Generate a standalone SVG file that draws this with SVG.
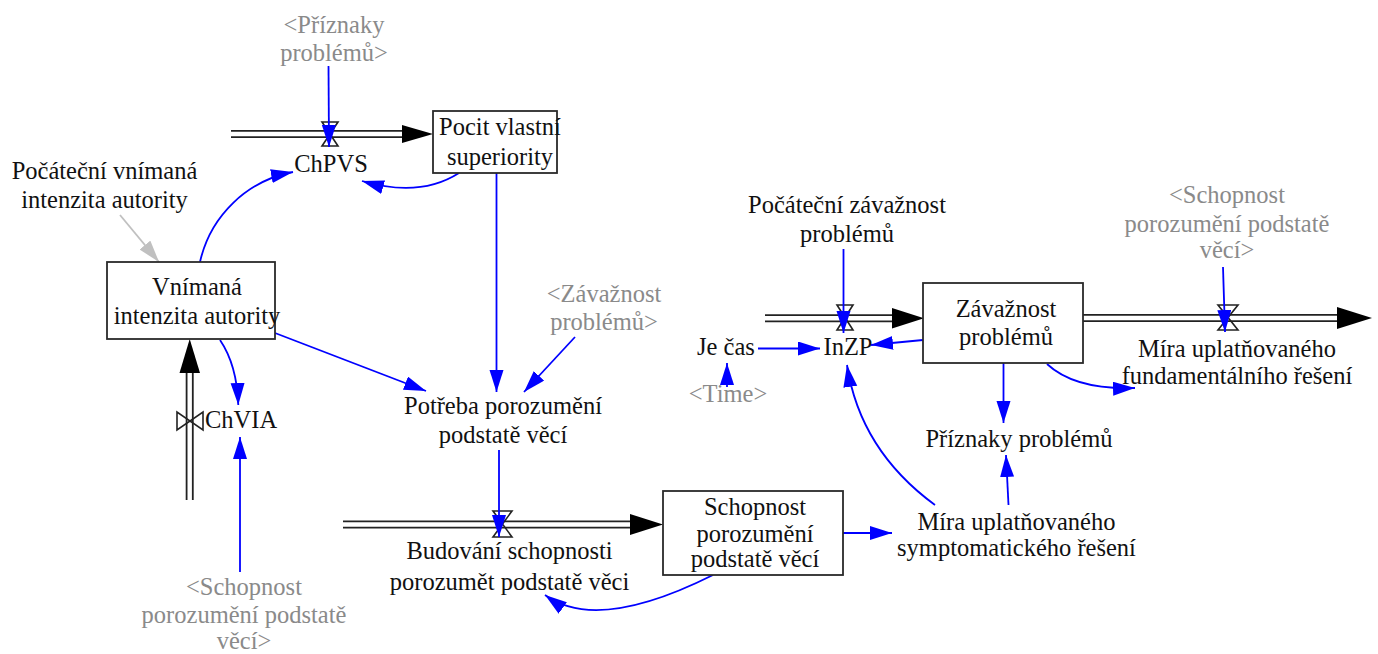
<svg xmlns="http://www.w3.org/2000/svg" width="1378" height="654" viewBox="0 0 1378 654">
<style>
text{font-family:"Liberation Serif",Tinos,"Times New Roman",Times,serif;font-size:24.5px;text-anchor:middle;fill:#111}
.g{fill:#8a8a8a}
.box{fill:#fff;stroke:#2a2a2a;stroke-width:1.8}
.po{stroke:#222;stroke-width:8;fill:none}
.pi{stroke:#fff;stroke-width:4.4;fill:none}
.fh{fill:#000}
.valve{fill:none;stroke:#222;stroke-width:1.6}
.c{fill:none;stroke:#0000ff;stroke-width:1.8;marker-end:url(#ab)}
.cg{fill:none;stroke:#c0c0c0;stroke-width:1.8;marker-end:url(#ag)}
</style>
<defs>
<marker id="ab" markerUnits="userSpaceOnUse" markerWidth="24" markerHeight="16" refX="22" refY="7" orient="auto"><path d="M0,0 L22,7 L0,14 Z" fill="#0000ff"/></marker>
<marker id="ag" markerUnits="userSpaceOnUse" markerWidth="24" markerHeight="16" refX="22" refY="7" orient="auto"><path d="M0,0 L22,7 L0,14 Z" fill="#c0c0c0"/></marker>
</defs>

<g id="flows">
<g id="flow-ChPVS">
<line class="po" x1="231" y1="134" x2="405" y2="134"/><line class="pi" x1="231" y1="134" x2="405" y2="134"/>
<polygon class="fh" points="402,125 433,134 402,143"/>
<path class="valve" d="M322,122 L338,122 L322,146 L338,146 Z"/>
</g>
<g id="flow-ChVIA">
<line class="po" x1="189.7" y1="500" x2="189.7" y2="370"/><line class="pi" x1="189.7" y1="500" x2="189.7" y2="370"/>
<polygon class="fh" points="179.5,373 189.7,339 200,373"/>
<path class="valve" d="M177,412 L177,430 L203,412 L203,430 Z"/>
</g>
<g id="flow-Budovani">
<line class="po" x1="343" y1="524.5" x2="633" y2="524.5"/><line class="pi" x1="343" y1="524.5" x2="633" y2="524.5"/>
<polygon class="fh" points="630,514 663,524.5 630,535"/>
<path class="valve" d="M493,511 L512,511 L493,537 L512,537 Z"/>
</g>
<g id="flow-InZP">
<line class="po" x1="765" y1="318.3" x2="895" y2="318.3"/><line class="pi" x1="765" y1="318.3" x2="895" y2="318.3"/>
<polygon class="fh" points="892,308 924,318.3 892,328.5"/>
<path class="valve" d="M837,305 L853,305 L837,330 L853,330 Z"/>
</g>
<g id="flow-Fund">
<line class="po" x1="1083" y1="318" x2="1340" y2="318"/><line class="pi" x1="1083" y1="318" x2="1340" y2="318"/>
<polygon class="fh" points="1337,307 1372,318 1337,329"/>
<path class="valve" d="M1218,305 L1238,305 L1218,330 L1238,330 Z"/>
</g>
</g>

<g id="connectors">
<path class="c" d="M328.5,66 L329,147"/>
<path class="c" d="M459,173 Q420,198 362,181"/>
<path class="c" d="M200,262 A117.5,117.5 0 0 1 293,172"/>
<path class="c" d="M220,340 Q237,365 238.3,405"/>
<path class="c" d="M240,572 L240,437"/>
<path class="c" d="M275,333 L426,391"/>
<path class="c" d="M496.5,173 L496.5,392"/>
<path class="c" d="M575,337 L524,392"/>
<path class="c" d="M499,450 L499,537"/>
<path class="c" d="M713,575 Q597,633 545,595"/>
<path class="c" d="M843,533 L892,533"/>
<path class="c" d="M1008.5,505 L1006,455"/>
<path class="c" d="M935,505 Q860,450 847,365"/>
<path class="c" d="M1003.5,363 L1003.5,423"/>
<path class="c" d="M1047,364 Q1075,390 1135,388"/>
<path class="c" d="M843.5,249 L843.5,333"/>
<path class="c" d="M923,340 L871,345"/>
<path class="c" d="M758,348.5 L820,348.5"/>
<path class="c" d="M727,387 L727,363"/>
<path class="c" d="M1223,267 L1225,332"/>
<path class="cg" d="M120,215 L159,262"/>
</g>

<g font-family="Liberation Serif, Tinos, Times New Roman, serif">
<g id="PriznakyShadow1"><text class="g" x="334" y="33">&lt;Příznaky</text><text class="g" x="334" y="61">problémů&gt;</text></g>
<g id="PocitVlastniSuperiority"><rect class="box" x="433" y="111" width="124" height="62"/><text x="500" y="135">Pocit vlastní</text><text x="500" y="165">superiority</text></g>
<g id="ChPVS"><text x="331" y="171.5">ChPVS</text></g>
<g id="PocatecniVnimana"><text x="104.5" y="179">Počáteční vnímaná</text><text x="104.5" y="208">intenzita autority</text></g>
<g id="VnimanaIntenzitaAutority"><rect class="box" x="107" y="262" width="168" height="77"/><text x="197" y="295">Vnímaná</text><text x="197" y="324">intenzita autority</text></g>
<g id="ChVIA"><text x="205" y="428" style="text-anchor:start">ChVIA</text></g>
<g id="SchopnostShadow1"><text class="g" x="244" y="595">&lt;Schopnost</text><text class="g" x="244" y="623">porozumění podstatě</text><text class="g" x="244" y="649">věcí&gt;</text></g>
<g id="ZavaznostShadow"><text class="g" x="604" y="302">&lt;Závažnost</text><text class="g" x="604" y="330">problémů&gt;</text></g>
<g id="PotrebaPorozumeni"><text x="503" y="414">Potřeba porozumění</text><text x="503" y="443">podstatě věcí</text></g>
<g id="BudovaniSchopnosti"><text x="509.5" y="559">Budování schopnosti</text><text x="509.5" y="590">porozumět podstatě věci</text></g>
<g id="SchopnostPorozumeni"><rect class="box" x="663" y="491" width="180" height="84"/><text x="755" y="515">Schopnost</text><text x="755" y="541.5">porozumění</text><text x="755" y="567">podstatě věcí</text></g>
<g id="PocatecniZavaznost"><text x="847" y="213">Počáteční závažnost</text><text x="847" y="241.5">problémů</text></g>
<g id="JeCas"><text x="726" y="355">Je čas</text></g>
<g id="TimeShadow"><text class="g" x="728" y="402">&lt;Time&gt;</text></g>
<g id="InZP"><text x="848" y="355">InZP</text></g>
<g id="ZavaznostProblemu"><rect class="box" x="923" y="283" width="160" height="80"/><text x="1006" y="317">Závažnost</text><text x="1006" y="345">problémů</text></g>
<g id="SchopnostShadow2"><text class="g" x="1227" y="203">&lt;Schopnost</text><text class="g" x="1227" y="231.5">porozumění podstatě</text><text class="g" x="1227" y="257.5">věcí&gt;</text></g>
<g id="MiraFundamentalniho"><text x="1237" y="356.5">Míra uplatňovaného</text><text x="1237" y="383.5">fundamentálního řešení</text></g>
<g id="PriznakyProblemu"><text x="1019" y="446.5">Příznaky problémů</text></g>
<g id="MiraSymptomatickeho"><text x="1016.5" y="530">Míra uplatňovaného</text><text x="1016.5" y="556">symptomatického řešení</text></g>
</g>
</svg>
